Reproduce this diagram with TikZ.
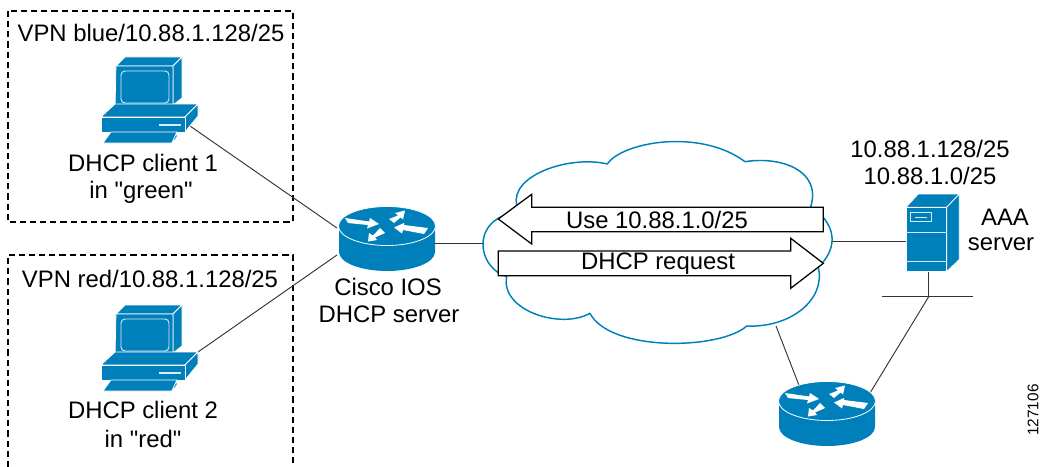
\documentclass[tikz,border=0pt]{standalone}
\usepackage{fontspec}
\newfontfamily\lblfont{Liberation Sans}
\definecolor{ciscoblue}{HTML}{0080BB}
\tikzset{
  x=0.75pt, y=-0.75pt,
  wire/.style={draw=black!80, line width=0.7pt},
  zone/.style={draw=black, line width=0.95pt, dash pattern=on 4.6pt off 3pt},
  devface/.style={fill=ciscoblue, draw=white, line width=0.55pt, line join=round},
  devline/.style={draw=white!85!ciscoblue, line width=0.7pt},
  lbl/.style={font=\lblfont\fontsize{17.9pt}{20pt}\selectfont, inner sep=0pt, text=black, anchor=center},
  flow/.style={fill=white, draw=black, line width=0.95pt, miter limit=10},
  pc/.pic={
    \path[devface] (116,66)--(125,57)--(182,57)--(173,66)--cycle;
    \path[devface] (173,66)--(182,57)--(182,98)--(173,105)--cycle;
    \path[devface] (116,66)--(173,66)--(173,106)--(115,109)--cycle;
    \draw[devline,rounded corners=3pt] (121,71) rectangle (169,103);
    \path[devface] (101,117)--(115,104)--(198,104)--(185,117)--cycle;
    \path[devface] (185,117)--(198,104)--(198,116)--(185,132)--cycle;
    \path[devface] (101,117)--(185,117)--(185,132)--(101,132)--cycle;
    \fill[white!85!ciscoblue] (159,124) rectangle (181,126);
    \path[devface] (111,132)--(177,132)--(172,143)--(103,143)--cycle;
    \path[devface] (177,132)--(177,137)--(172,144)--(172,143)--cycle;
  },
  router/.pic={
    \fill[ciscoblue] (-48,0) -- (-48,26) arc[start angle=180,end angle=0,x radius=48,y radius=19] -- (48,0) -- cycle;
    \path[fill=ciscoblue,draw=white,line width=0.6pt] (0,0) ellipse[x radius=48.5,y radius=19.5];
    \fill[white] (-42,-8)--(-18,-4.5)--(-17,-8)--(-8,-2)--(-20,2.5)--(-19,-1)--(-39,-3)--cycle;
    \fill[white] (41,2)--(17,-1)--(17,-3)--(7,1.5)--(15,7.5)--(16,4)--(37,8)--cycle;
    \fill[white] (2,-7)--(11,-10.5)--(8,-13)--(18,-15.5)--(16,-6.5)--(13.5,-8.5)--(7,-3)--cycle;
    \fill[white] (-7,2)--(-14,9.5)--(-18,7)--(-19,15.5)--(-10,14)--(-12,11.5)--(-2,7)--cycle;
  }
}
\begin{document}
\begin{tikzpicture}
\useasboundingbox (0,0) rectangle (1042,467);
% zones
\draw[zone] (8,11) rectangle (293,222);
\draw[zone] (8,467) -- (8,255) -- (293,255) -- (293,467);
% named ports
\coordinate (pc1port) at (190,126);
\coordinate (pc2port) at (198,352);
\coordinate (r1a) at (337,228);
\coordinate (r1b) at (337,255);
\coordinate (r1c) at (435,243);
\coordinate (cloudw) at (484,243);
\coordinate (cloude) at (832,241);
\coordinate (cloudb) at (776,326);
\coordinate (srvw) at (906,241);
\coordinate (srvb) at (928.7,271.7);
\coordinate (busw) at (882,296.7);
\coordinate (buse) at (973.3,296.7);
\coordinate (buso) at (928.7,296.7);
\coordinate (r2a) at (800,388);
\coordinate (r2b) at (870,393);
% connectors
\draw[wire] (pc1port) -- (r1a);
\draw[wire] (pc2port) -- (r1b);
\draw[wire] (r1c) -- (cloudw);
\draw[wire] (cloude) -- (srvw);
\draw[wire] (srvb) -- (buso);
\draw[wire] (busw) -- (buse);
\draw[wire] (cloudb) -- (r2a);
\draw[wire] (r2b) -- (buso);
% devices
\pic at (0,0) {pc};
\pic at (0,248) {pc};
\pic at (387,226) {router};
\pic at (827,401) {router};
% cloud
\path[fill=white,draw=ciscoblue,line width=1.1pt,line join=round] (607.3,164)
  .. controls (622,142) and (700,128) .. (745,161.7)
  .. controls (780,156) and (822,170) .. (810.7,206.7)
  .. controls (826,216) and (846,240) .. (818.3,267.3)
  .. controls (826,300) and (790,328) .. (746.7,326)
  .. controls (720,350) and (610,352) .. (590,313.3)
  .. controls (560,330) and (500,310) .. (506.7,276.7)
  .. controls (480,268) and (474,232) .. (498.3,218.3)
  .. controls (510,212) and (516,210) .. (516.7,205)
  .. controls (510,175) and (570,155) .. (607.3,164) -- cycle;
% flow arrows
\path[flow] (498.3,219)--(531.7,194.3)--(531.7,207.3)--(823.3,207.3)--(823.3,231.7)--(531.7,231.7)--(531.7,244)--cycle;
\path[flow] (498.3,251)--(790.7,251)--(790.7,238.3)--(823.3,263.3)--(790.7,288.3)--(790.7,275.7)--(498.3,275.7)--cycle;
% server
\path[devface] (906,207.3)--(918.3,194)--(959.3,194)--(946.7,207.3)--cycle;
\path[devface] (946.7,207.3)--(959.3,194)--(959.3,259.3)--(946.7,271.7)--cycle;
\path[devface] (906,207.3) rectangle (946.7,271.7);
\draw[devline] (906,232.3)--(946.7,232.3);
\draw[devline] (906,261.7)--(946.7,261.7);
\draw[devline] (910.7,212.3) rectangle (931.7,221.3);
\draw[devline] (915,217)--(926.7,217);
% labels
\node[lbl] (t1) at (151,33) {VPN blue/10.88.1.128/25};
\node[lbl] (t2) at (143,163) {DHCP client 1};
\node[lbl] (t3) at (141,192) {in "green"};
\node[lbl] (t4) at (150,279) {VPN red/10.88.1.128/25};
\node[lbl] (t5) at (143,410) {DHCP client 2};
\node[lbl] (t6) at (143,439) {in "red"};
\node[lbl] (t7) at (388,287) {Cisco IOS};
\node[lbl] (t8) at (389,314) {DHCP server};
\node[lbl] (t9) at (657,220) {Use 10.88.1.0/25};
\node[lbl] (t10) at (658,264) {DHCP request};
\node[lbl] (t11) at (930,149) {10.88.1.128/25};
\node[lbl] (t12) at (930,176) {10.88.1.0/25};
\node[lbl] (t13) at (1005,217) {AAA};
\node[lbl] (t14) at (1001,244) {server};
\node[font=\lblfont\fontsize{11.5pt}{13pt}\selectfont,inner sep=0pt,rotate=90] (t15) at (1033,410) {127106};
\end{tikzpicture}
\end{document}
